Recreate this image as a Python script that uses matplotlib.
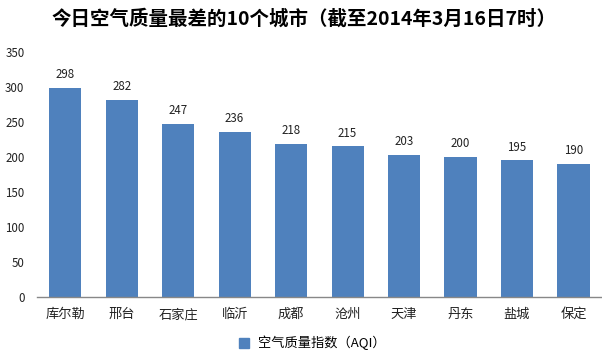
import matplotlib
matplotlib.use("Agg")
import matplotlib.pyplot as plt
from matplotlib.lines import Line2D

plt.rcParams["font.family"] = ["Noto Sans CJK SC", "DejaVu Sans"]

# data
cities = ["库尔勒", "邢台", "石家庄", "临沂", "成都", "沧州", "天津", "丹东", "盐城", "保定"]
aqi = [298, 282, 247, 236, 218, 215, 203, 200, 195, 190]
yticks = [0, 50, 100, 150, 200, 250, 300, 350]

bar_color = "#4F81BD"

fig = plt.figure(figsize=(6.02, 3.51), dpi=100)
ax = fig.add_axes([0.0615, 0.154, 0.938, 0.698])

x = range(len(cities))
bars = ax.bar(x, aqi, width=0.57, color=bar_color, zorder=2)

for xi, v in zip(x, aqi):
    ax.annotate(str(v), (xi, v), xytext=(0, 5), textcoords="offset points",
                ha="center", va="bottom", fontsize=8.3, color="#222222")

ax.set_xlim(-0.5, len(cities) - 0.5)
ax.set_ylim(0, 350)
ax.set_yticks(yticks)
ax.set_xticks(list(x))
ax.set_xticklabels(cities)
ax.tick_params(axis="both", length=0, colors="#222222")
ax.tick_params(axis="x", pad=8, labelsize=9.5)
ax.tick_params(axis="y", pad=9, labelsize=8.3)

for side in ["top", "right", "left"]:
    ax.spines[side].set_visible(False)
ax.spines["bottom"].set_color("#888888")
ax.spines["bottom"].set_linewidth(1.0)

fig.text(0.505, 0.945, "今日空气质量最差的10个城市（截至2014年3月16日7时）",
         ha="center", va="center", fontsize=14, fontweight="bold")

handle = Line2D([], [], marker="s", linestyle="none", markersize=7,
                markerfacecolor=bar_color, markeredgecolor=bar_color)
fig.legend([handle], ["空气质量指数（AQI）"], loc="center",
           bbox_to_anchor=(0.512, 0.023), frameon=False, fontsize=9.5,
           handletextpad=0.0, borderaxespad=0)

fig.savefig("out.png", dpi=100)
